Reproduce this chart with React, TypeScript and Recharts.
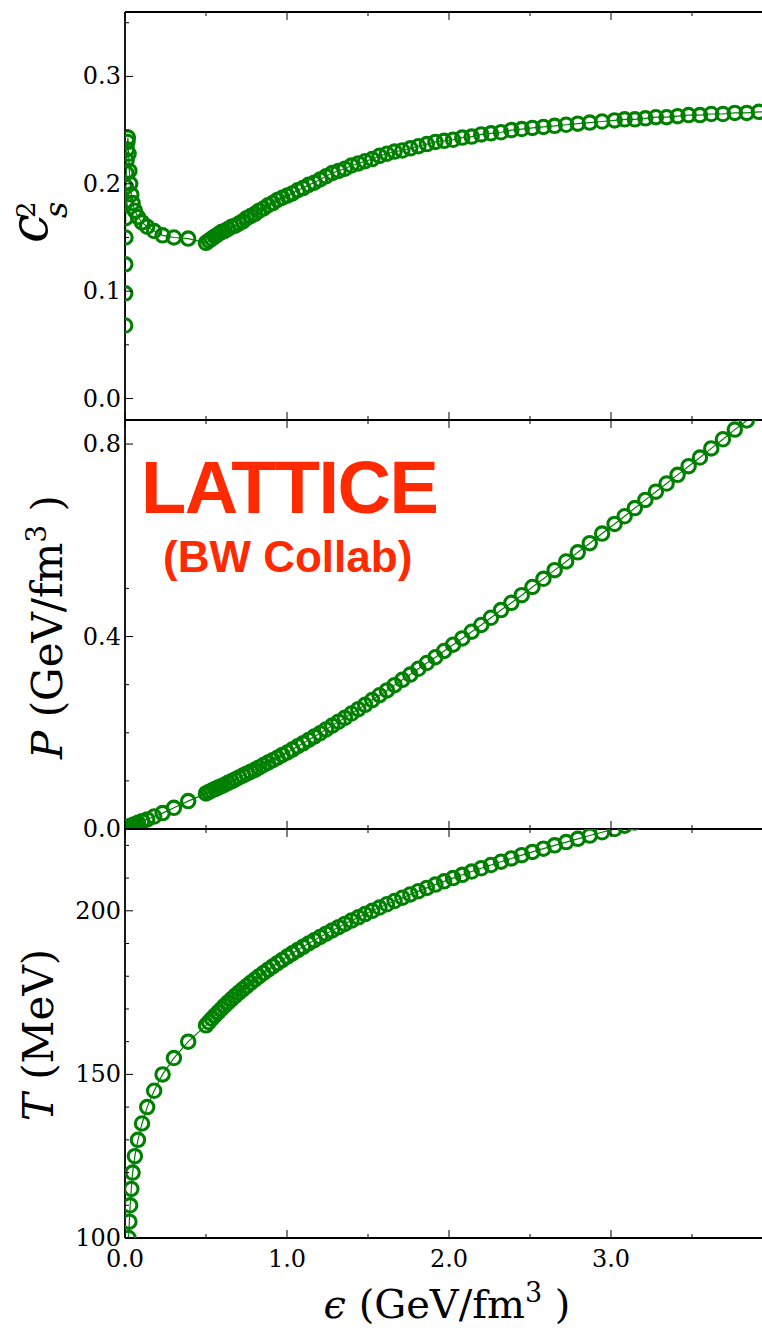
import React from 'react';
import {Line, LineChart, XAxis, YAxis} from 'recharts';

// lattice EoS points (T in MeV, eps and P in GeV/fm^3)
const temperature = [
	40, 45, 50, 55, 60, 65, 70, 75, 80, 85, 90, 95,
	100, 105, 110, 115, 120, 125, 130, 135, 140, 145, 150, 155, 160,
	165, 166, 167, 168, 169, 170, 171, 172, 173, 174, 175, 176, 177, 178, 179,
	180, 181, 182, 183, 184, 185, 186, 187, 188, 189, 190, 191, 192, 193, 194,
	195, 196, 197, 198, 199, 200, 201, 202, 203, 204, 205, 206, 207, 208, 209,
	210, 211, 212, 213, 214, 215, 216, 217, 218, 219, 220, 221, 222, 223, 224,
	225, 226, 227, 228, 229, 230, 231, 232, 233, 234, 235, 236, 237, 238, 239, 240,
];

const energyDensity = [
	0.001, 0.0015, 0.002, 0.003, 0.004, 0.005, 0.006, 0.008, 0.010, 0.012, 0.015, 0.018,
	0.022, 0.027, 0.032, 0.039, 0.047, 0.061, 0.080, 0.105, 0.137, 0.180, 0.232, 0.302, 0.390,
	0.500, 0.518, 0.536, 0.555, 0.575, 0.595, 0.615, 0.636, 0.658, 0.680, 0.703, 0.727, 0.751, 0.776, 0.802,
	0.828, 0.855, 0.883, 0.912, 0.941, 0.971, 1.002, 1.033, 1.066, 1.099, 1.133, 1.168, 1.204, 1.241, 1.279,
	1.318, 1.357, 1.398, 1.440, 1.482, 1.526, 1.571, 1.617, 1.664, 1.712, 1.761, 1.811, 1.863, 1.916, 1.970,
	2.025, 2.082, 2.140, 2.199, 2.259, 2.321, 2.385, 2.449, 2.515, 2.583, 2.652, 2.723, 2.795, 2.869, 2.945,
	3.022, 3.084, 3.147, 3.212, 3.277, 3.343, 3.411, 3.479, 3.549, 3.619, 3.691, 3.764, 3.838, 3.913, 3.989, 4.066,
];

const soundSpeed2 = [
	0.068, 0.098, 0.125, 0.150, 0.168, 0.183, 0.197, 0.210, 0.222, 0.232, 0.239, 0.243,
	0.228, 0.212, 0.200, 0.190, 0.182, 0.175, 0.169, 0.164, 0.160, 0.156, 0.152, 0.150, 0.149,
	0.145, 0.147, 0.149, 0.151, 0.153, 0.155, 0.156, 0.158, 0.160, 0.161, 0.163, 0.165, 0.168, 0.170, 0.172,
	0.175, 0.177, 0.180, 0.182, 0.185, 0.187, 0.189, 0.191, 0.194, 0.196, 0.199, 0.201, 0.204, 0.207, 0.210,
	0.212, 0.214, 0.217, 0.219, 0.221, 0.223, 0.226, 0.228, 0.230, 0.231, 0.233, 0.235, 0.237, 0.239, 0.240,
	0.241, 0.243, 0.244, 0.246, 0.247, 0.248, 0.250, 0.251, 0.252, 0.253, 0.254, 0.255, 0.256, 0.257, 0.258,
	0.259, 0.260, 0.260, 0.261, 0.262, 0.262, 0.263, 0.264, 0.264, 0.265, 0.265, 0.266, 0.266, 0.267, 0.267, 0.268,
];

const pressure = [
	0.0001, 0.0002, 0.0003, 0.0004, 0.0006, 0.0008, 0.001, 0.0013, 0.0017, 0.0022, 0.0027, 0.0033,
	0.004, 0.005, 0.006, 0.007, 0.008, 0.010, 0.013, 0.016, 0.020, 0.026, 0.033, 0.044, 0.058,
	0.074, 0.077, 0.080, 0.083, 0.086, 0.089, 0.092, 0.096, 0.099, 0.103, 0.107, 0.111, 0.115, 0.119, 0.123,
	0.128, 0.133, 0.138, 0.143, 0.148, 0.154, 0.159, 0.165, 0.172, 0.178, 0.185, 0.192, 0.199, 0.207, 0.215,
	0.223, 0.231, 0.240, 0.249, 0.258, 0.268, 0.278, 0.288, 0.299, 0.310, 0.321, 0.333, 0.345, 0.357, 0.370,
	0.383, 0.396, 0.410, 0.424, 0.439, 0.455, 0.470, 0.486, 0.503, 0.520, 0.538, 0.556, 0.575, 0.594, 0.614,
	0.634, 0.650, 0.667, 0.684, 0.701, 0.718, 0.736, 0.754, 0.772, 0.791, 0.810, 0.830, 0.849, 0.869, 0.889, 0.910,
];

const epsMajor = [0, 1, 2, 3];
const epsMinor = [0.5, 1.5, 2.5, 3.5];
const cs2Major = [0, 0.1, 0.2, 0.3];
const cs2Minor = [0.05, 0.15, 0.25, 0.35];
const pMajor = [0, 0.4, 0.8];
const pMinor = [0.1, 0.2, 0.3, 0.5];
const tMajor = [100, 150, 200];
const tMinor = [110, 120, 130, 140, 160, 170, 180, 190, 210, 220];

const rows = temperature.map((t, i) => ({
	T: t,
	eps: energyDensity[i],
	cs2: soundSpeed2[i],
	P: pressure[i],
}));

const GREEN = '#008000';
const SERIF = '"DejaVu Serif", serif';
const EPS_DOMAIN: [number, number] = [0, 3.932];
const W = 762;
const H = 1328;

const isIn = (list: number[], v: number) => list.some(m => Math.abs(m - v) < 1e-9);

const yTick = (major: number[], fmt: (v: number) => string) => (props: any) => {
	const {x, y, payload} = props;
	const big = isIn(major, payload.value);
	return (
		<g>
			<line x1={x} x2={x + (big ? 8 : 4)} y1={y} y2={y} stroke="#000" strokeWidth={1}/>
			{big && (
				<text x={x - 4} y={y} dy={8} textAnchor="end" fontSize={24} fontFamily={SERIF} fill="#000">
					{fmt(payload.value)}
				</text>
			)}
		</g>
	);
};

const xTick = (dir: number, labels: boolean) => (props: any) => {
	const {x, y, payload} = props;
	const big = isIn(epsMajor, payload.value);
	return (
		<g>
			<line x1={x} x2={x} y1={y} y2={y + dir * (big ? 8 : 4)} stroke="#000" strokeWidth={1}/>
			{labels && big && (
				<text x={x} y={y + 29} textAnchor="middle" fontSize={24} fontFamily={SERIF} fill="#000">
					{payload.value.toFixed(1)}
				</text>
			)}
		</g>
	);
};

type PanelProps = {
	marginTop: number;
	marginBottom: number;
	bottomHeight: number;
	dataKey: string;
	domain: [number, number];
	major: number[];
	minor: number[];
	fmt: (v: number) => string;
	labels: boolean;
};

// every panel is a full-page chart; margins place its plot box
const Panel = ({marginTop, marginBottom, bottomHeight, dataKey, domain, major, minor, fmt, labels}: PanelProps) => (
	<div style={{position: 'absolute', left: 0, top: 0}}>
		<LineChart width={W} height={H} data={rows} margin={{top: marginTop, right: 0, bottom: marginBottom, left: 0}}>
			<XAxis xAxisId="b" dataKey="eps" type="number" domain={EPS_DOMAIN} allowDataOverflow
				   ticks={[...epsMajor, ...epsMinor]} interval={0} height={bottomHeight}
				   tickSize={0} tickMargin={0} tickLine={false} tick={xTick(-1, labels)}
				   axisLine={{stroke: '#000', strokeWidth: 1.8}}/>
			<XAxis xAxisId="t" orientation="top" dataKey="eps" type="number" domain={EPS_DOMAIN} allowDataOverflow
				   ticks={[...epsMajor, ...epsMinor]} interval={0} height={1}
				   tickSize={0} tickMargin={0} tickLine={false} tick={xTick(1, false)}
				   axisLine={{stroke: '#000', strokeWidth: 1.8}}/>
			<YAxis type="number" domain={domain} allowDataOverflow width={125}
				   ticks={[...major, ...minor]} interval={0}
				   tickSize={0} tickMargin={0} tickLine={false} tick={yTick(major, fmt)}
				   axisLine={{stroke: '#000', strokeWidth: 1.8}}/>
			<Line xAxisId="b" type="linear" dataKey={dataKey} stroke={GREEN} strokeWidth={1.2}
				  dot={{r: 6.7, fill: 'none', stroke: GREEN, strokeWidth: 3.1}} activeDot={false}
				  isAnimationActive={false}/>
		</LineChart>
	</div>
);

const App = () => {
	return (
		<div style={{position: 'absolute', left: 0, top: 0, width: W, height: H, background: '#fff'}}>
			<Panel marginTop={11} marginBottom={907} bottomHeight={1} dataKey="cs2" domain={[-0.02, 0.36]}
				   major={cs2Major} minor={cs2Minor} fmt={v => v.toFixed(1)} labels={false}/>
			<Panel marginTop={419} marginBottom={498} bottomHeight={1} dataKey="P" domain={[0, 0.85]}
				   major={pMajor} minor={pMinor} fmt={v => v.toFixed(1)} labels={false}/>
			<Panel marginTop={828} marginBottom={0} bottomHeight={90} dataKey="T" domain={[100, 225]}
				   major={tMajor} minor={tMinor} fmt={v => String(v)} labels={true}/>

			<svg width={W} height={H} style={{position: 'absolute', left: 0, top: 0, pointerEvents: 'none'}}>
				<g fontFamily={SERIF} fill="#000">
					<text transform="translate(47,243) rotate(-90)" fontSize={52} fontStyle="italic">c</text>
					<text transform="translate(67,218) rotate(-90)" fontSize={32} fontStyle="italic">s</text>
					<text transform="translate(35,218) rotate(-90)" fontSize={26}>2</text>

					<text transform="translate(62,627) rotate(-90)" fontSize={42} textAnchor="middle">
						<tspan fontStyle="italic">P</tspan> (GeV/fm<tspan dy={-16} fontSize={28}>3</tspan><tspan dy={16}> )</tspan>
					</text>

					<text transform="translate(53,1035) rotate(-90)" fontSize={42} textAnchor="middle">
						<tspan fontStyle="italic">T</tspan> (MeV)
					</text>

					<text x={447} y={1318} fontSize={40} textAnchor="middle">
						<tspan fontStyle="italic">ϵ</tspan> (GeV/fm<tspan dy={-16} fontSize={27}>3</tspan><tspan dy={16}> )</tspan>
					</text>
				</g>
				<g fontFamily='"Liberation Sans", Arial, sans-serif' fontWeight="bold" fill="#ff2a00">
					<text x={141} y={513} fontSize={74} letterSpacing={-1.5}>LATTICE</text>
					<text x={163} y={572} fontSize={44}>(BW Collab)</text>
				</g>
			</svg>
		</div>
	);
};

export default App;
